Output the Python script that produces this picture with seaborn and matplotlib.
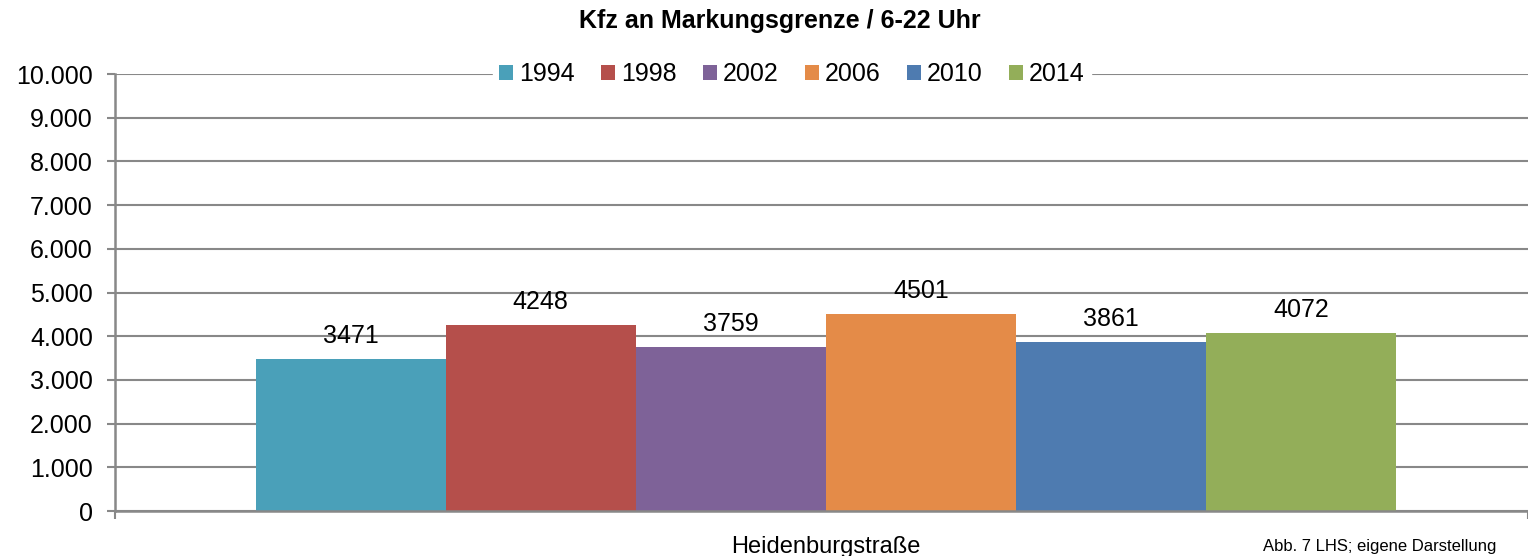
import pandas as pd
import matplotlib.pyplot as plt
import seaborn as sns
from matplotlib.ticker import FuncFormatter, FixedLocator

# Data
strasse = ['Heidenburgstraße']
jahre = ['1994', '1998', '2002', '2006', '2010', '2014']
kfz = [3471, 4248, 3759, 4501, 3861, 4072]
farben = ['#4AA0B9', '#B54F4B', '#7E6298', '#E48B48', '#4E7BB0', '#93AE59']

df = pd.DataFrame({
    'Straße': strasse * len(jahre),
    'Jahr': jahre,
    'Kfz': kfz
})

sns.set_style('white')
plt.rcParams['font.family'] = ['Liberation Sans', 'DejaVu Sans']
plt.rcParams['text.color'] = 'black'
plt.rcParams['xtick.labelcolor'] = 'black'
plt.rcParams['ytick.labelcolor'] = 'black'

fig = plt.figure(figsize=(15.28, 5.56), dpi=100)
ax = fig.add_axes([0.0753, 0.0809, 0.9247, 0.786])

sns.barplot(data=df, x='Straße', y='Kfz', hue='Jahr', palette=farben,
            width=0.807, saturation=1, gap=0, linewidth=0, edgecolor='none',
            ax=ax, zorder=3)

# Bar labels
for cont in ax.containers:
    ax.bar_label(cont, fontsize=18, padding=8, color='black')

ax.set_ylim(0, 10000)
ax.set_xlim(-0.503, 0.497)
ax.set_yticks(range(0, 10001, 1000))
ax.yaxis.set_major_formatter(FuncFormatter(lambda v, p: f'{int(v):,}'.replace(',', '.')))
ax.grid(axis='y', color='#888888', linewidth=1.5, zorder=0)
ax.set_axisbelow(True)

ax.set_xlabel('')
ax.set_ylabel('')
ax.tick_params(axis='y', labelsize=18, length=6, width=1.5, color='#888888',
               direction='out', left=True, pad=10)
ax.tick_params(axis='x', which='major', labelsize=17, length=0, pad=18)
ax.xaxis.set_minor_locator(FixedLocator([-0.503, 0.497]))
ax.tick_params(axis='x', which='minor', length=6, width=1.5, color='#888888',
               direction='out', bottom=True)

for side in ['top', 'right']:
    ax.spines[side].set_visible(False)
for side in ['left', 'bottom']:
    ax.spines[side].set_color('#888888')
    ax.spines[side].set_linewidth(1.8)
ax.spines['bottom'].set_zorder(4)

leg = ax.legend(loc='center', bbox_to_anchor=(0.479, 1.0), ncol=6, frameon=True,
                fontsize=18, handlelength=0.55, handleheight=0.55, handletextpad=0.25,
                columnspacing=1.05, borderpad=0.25, fancybox=False)
leg.get_frame().set_edgecolor('white')
leg.get_frame().set_facecolor('white')
leg.get_frame().set_alpha(1)
leg.set_zorder(5)

fig.text(0.5105, 0.962, 'Kfz an Markungsgrenze / 6-22 Uhr', ha='center', va='center',
         fontsize=18, fontweight='bold')
fig.text(1263 / 1528, 0.003, 'Abb. 7 LHS; eigene Darstellung', ha='left', va='bottom',
         fontsize=12)

fig.savefig('out.png', dpi=100)
